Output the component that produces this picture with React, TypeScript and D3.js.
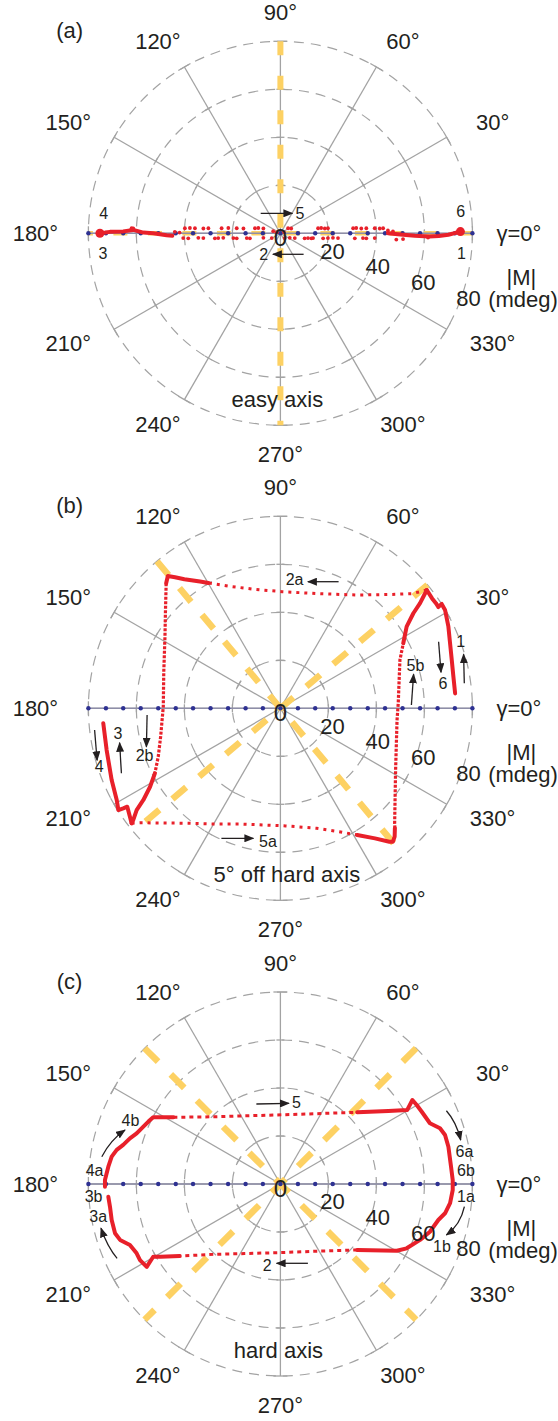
import React from "react";
import * as d3 from "d3";

const W = 558;
const H = 1421;
const R = 192;
const FONT = "'Liberation Sans', Arial, Helvetica, sans-serif";

const RADIAL_TICKS = [20, 40, 60, 80];
const ANGLE_TICKS = [0, 30, 60, 90, 120, 150, 180, 210, 240, 270, 300, 330];
const REF_DOTS = [-80, -72.7, -65.5, -58.2, -50.9, -43.6, -36.4, -29.1, -21.8, -14.5, -7.3, 0,
  7.3, 14.5, 21.8, 29.1, 36.4, 43.6, 50.9, 58.2, 65.5, 72.7, 80];

// ---------- panel (a): easy axis ----------
const A_AXES = [90, 0];
const A_DENSE = [
  [[-75.5, 0], [-73, 0.3], [-71, 0.6], [-65.5, 0.8], [-61.3, 1.4], [-57.1, 0.3], [-53, 0], [-47.4, -0.8], [-45, -1.0]],
  [[44.8, 0], [50, -0.5], [56, -1.0], [62, -1.3], [66, -1.1], [70, -0.6], [73, 0.2], [75.4, 0.6]],
];
const A_SCATTER = [
  [-62, 2.1], [-61.3, 2.0], [-39.8, 2.1], [-37.7, 2.2], [-35.6, 2.1], [-32.1, 2.0], [-30, 2.1], [-24.5, 2.1],
  [-21.7, 2.2], [-18.2, 2.1], [-15.4, 2.0], [-10.6, 2.1], [-9.2, 2.2], [-7.1, 2.0],
  [-40.5, -2.0], [-38.4, -2.1], [-34.2, -1.9], [-32.1, -2.0], [-27.3, -2.1], [-25.9, -2.0], [-23.8, -1.9],
  [-19.6, -2.0], [-18.2, -2.1], [-14, -2.0], [-12.7, -2.1], [-7.1, -1.9], [-3.6, -2.0],
  [-44, 0.6], [-42, 0.3], [-3, 0.9], [-1.5, 0.4], [1.5, 0.5],
  [3.2, 2.1], [4.5, 2.0], [15.7, 2.1], [17, 2.2], [18.5, 2.0], [19.8, 2.1], [30.3, 2.1], [31.6, 2.2],
  [33.7, 2.0], [35.8, 2.1], [39.3, 2.1], [41.4, 2.0], [42.8, 2.1], [44.8, 1.2], [46.9, 0.8],
  [1.8, -2.0], [3.9, -1.9], [6, -2.0], [10.1, -2.1], [11.5, -2.0], [12.9, -2.1], [13.6, -2.0], [17.8, -2.1],
  [19.8, -2.0], [21.9, -1.9], [24, -2.0], [31, -2.1], [34.4, -2.0], [35.8, -2.1], [39.3, -2.0],
  [48.3, -2.6], [51.1, -2.4], [61.5, -1.8],
];
const A_BLOBS = [[-75.2, 0], [75, 0.7]];

// ---------- panel (b): 5° off hard axis ----------
const B_AXES = [130, 40];
const B_DENSE = [
  [[72.8, 6.2], [72.0, 14], [71.4, 20.1], [70.6, 28], [70, 34], [68.6, 41], [67.2, 43.5], [65.8, 42.2], [64.8, 43.8], [63.2, 45.8], [61, 49.3]],
  [[-30, 52.2], [-33.5, 52.8], [-40, 53.8], [-43.9, 54.6], [-46.9, 55.1], [-47.6, 52.1]],
  [[-52.3, -27.1], [-54.3, -32.7], [-57.1, -38.2], [-59.9, -42.4], [-61.3, -46.5], [-62, -47.9]],
  [[-62, -47.9], [-62.7, -45.2], [-63.8, -41], [-65.5, -41.7], [-67.5, -42.4], [-68.2, -38.2], [-70.3, -29.9], [-72.4, -17.4], [-73.8, -6.2]],
  [[32, -52.8], [39.4, -54.2], [45.4, -55.6], [46.9, -55.6], [47.6, -53.5], [47.7, -50]],
  [[51.2, 27.1], [52.6, 34], [55.4, 39.6], [58.2, 43.8], [61, 49.3]],
];
const B_SPARSE_H = [
  [[61, 49.3], [55, 47.8], [45, 47.4], [32, 47.2], [15, 47.8], [0.7, 48.6], [-10, 49.5], [-20.1, 50.7], [-30, 52.2]],
  [[-62, -47.9], [-58.5, -47.7], [-48, -47.8], [-37.7, -47.9], [-27.5, -48.2], [-16.8, -48.2], [2.2, -49], [15, -50], [24.5, -51.4], [32, -52.8]],
];
const B_SPARSE_V = [
  [[-47.6, 52.1], [-47.9, 40], [-48.1, 29.8], [-48.6, 15], [-48.8, 0.7], [-49.9, -11.8], [-50.9, -20.2], [-52.3, -27.1]],
  [[47.7, -50], [47.6, -47.9], [48, -25.7], [48.6, -4.9], [49.1, 2.1], [49.8, 20.1], [51.2, 27.1]],
];

// ---------- panel (c): hard axis ----------
const C_AXES = [135, 45];
const C_DENSE = [
  [[32, 29.9], [45, 30.4], [52.8, 30.8], [55, 35], [56.8, 32.9], [58.9, 30.1], [62.3, 25.3], [66.5, 23.2], [68.6, 20.4], [70, 15.5],
    [71.1, 7.2], [71.8, 1.7], [71.8, -2.5], [70.7, -8], [68.6, -12.2], [65.8, -15], [62.3, -19.9], [58.2, -23.3], [52.6, -26.8], [48.5, -27.8], [32, -27.5]],
  [[-42, -30], [-49.9, -30.3], [-53, -30.3], [-55.7, -34.5], [-58.5, -31.7], [-59.9, -28.9], [-62.7, -25.4], [-66.8, -23.3], [-68.9, -20.5],
    [-70.3, -15], [-71, -9.5], [-71.7, -5.3]],
  [[-73.1, -1.1], [-73.1, 1.7], [-71.7, 7.2], [-70.3, 11.4], [-68.2, 14.2], [-65.5, 16.3], [-62.7, 19], [-59.9, 21.1], [-57.1, 23.9],
    [-55, 26], [-53, 27.8], [-44.6, 27.8]],
];
const C_SPARSE_H = [
  [[32, -27.5], [15, -28], [2.2, -28.5], [-15, -29], [-27.5, -29.3], [-42, -30]],
  [[-44.6, 27.8], [-27.5, 28], [2.2, 28.9], [15, 29.3], [32, 29.9]],
];

const rScale = d3.scaleLinear().domain([0, 80]).range([0, R]);
const xS = d3.scaleLinear().domain([-80, 80]).range([-R, R]);
const yS = d3.scaleLinear().domain([-80, 80]).range([R, -R]);
const lineGen = d3.line<number[]>().x((d) => xS(d[0])).y((d) => yS(d[1]));

const rad = (a: number) => (a * Math.PI) / 180;
const pol = (r: number, a: number) => [r * Math.cos(rad(a)), -r * Math.sin(rad(a))];

const RED = "#e8202a";
const GRID = "#a3a3a3";
const YEL = "#fdd163";

type Note = { t: string; p: number[] };
type Arrow = { a: number[]; b: number[]; c?: number[] };

function Panel(props: {
  cy: number; tag: string; caption: string; capDx: number;
  axes: number[]; axisW: number[]; axisDash: string;
  dense: number[][][]; sparseH: number[][][]; sparseV: number[][][]; hDash: string; vDash: string;
  scatter?: number[][]; blobs?: number[][];
  notes: Note[]; arrows: Arrow[];
}) {
  const cx = 280.4;
  const { cy } = props;
  return (
    <g transform={`translate(${cx},${cy})`}>
      {RADIAL_TICKS.map((v) => (
        <circle key={v} r={rScale(v)} fill="none" stroke={GRID} strokeWidth={1.2} strokeDasharray="10 7" />
      ))}
      {ANGLE_TICKS.map((a) => {
        const [x2, y2] = pol(R, a);
        const n = [Math.sin(rad(a)), Math.cos(rad(a))];
        return (
          <g key={a}>
            <line x1={0} y1={0} x2={x2} y2={y2} stroke={GRID} strokeWidth={1.3} />
            {RADIAL_TICKS.map((v) => {
              const [px, py] = pol(rScale(v), a);
              const L = v === 80 ? 7 : 4;
              return (
                <line key={v} x1={px - n[0] * L} y1={py - n[1] * L} x2={px + n[0] * L} y2={py + n[1] * L}
                  stroke={GRID} strokeWidth={1.3} />
              );
            })}
          </g>
        );
      })}
      {props.axes.map((a, i) => {
        const [x1, y1] = pol(R, a);
        const [x2, y2] = pol(R, a + 180);
        return (
          <line key={a} x1={x1} y1={y1} x2={x2} y2={y2} stroke={YEL} strokeWidth={props.axisW[i]}
            strokeDasharray={props.axisDash} />
        );
      })}
      <line x1={xS(-80)} x2={xS(80)} y1={yS(0)} y2={yS(0)} stroke="#8e8ea8" strokeWidth={1.4} />
      {REF_DOTS.map((v, i) => (
        <circle key={i} cx={xS(v)} cy={yS(0)} r={2.2} fill="#2e3192" />
      ))}
      {props.sparseH.map((s, i) => (
        <path key={"h" + i} d={lineGen(s) || ""} fill="none" stroke={RED} strokeWidth={3} strokeDasharray={props.hDash} />
      ))}
      {props.sparseV.map((s, i) => (
        <path key={"v" + i} d={lineGen(s) || ""} fill="none" stroke={RED} strokeWidth={3.2} strokeDasharray={props.vDash} />
      ))}
      {props.dense.map((s, i) => (
        <path key={"d" + i} d={lineGen(s) || ""} fill="none" stroke={RED} strokeWidth={4}
          strokeLinejoin="round" strokeLinecap="round" />
      ))}
      {(props.scatter || []).map((p, i) => (
        <circle key={"s" + i} cx={xS(p[0])} cy={yS(p[1])} r={1.9} fill={RED} />
      ))}
      {(props.blobs || []).map((p, i) => (
        <circle key={"b" + i} cx={xS(p[0])} cy={yS(p[1])} r={4.5} fill={RED} />
      ))}
      {ANGLE_TICKS.filter((a) => a !== 0).map((a) => (
        <text key={a} x={245 * Math.cos(rad(a))} y={-221 * Math.sin(rad(a))} textAnchor="middle"
          dominantBaseline="central" fontSize={22} fontFamily={FONT} fill="#231f20">{`${a}°`}</text>
      ))}
      <text x={216} y={0} dominantBaseline="central" fontSize={22} fontFamily={FONT} fill="#231f20">γ=0°</text>
      {RADIAL_TICKS.map((v) => {
        const [px, py] = pol(rScale(v) + 7, -19);
        return (
          <text key={v} x={px} y={py} textAnchor="middle" dominantBaseline="central" fontSize={22}
            fontFamily={FONT} fill="#231f20">{v}</text>
        );
      })}
      <text x={241} y={44.5} textAnchor="middle" dominantBaseline="central" fontSize={22} fontFamily={FONT} fill="#231f20">|M|</text>
      <text x={242.6} y={66.7} textAnchor="middle" dominantBaseline="central" fontSize={22} fontFamily={FONT} fill="#231f20">(mdeg)</text>
      <text x={0} y={4} textAnchor="middle" dominantBaseline="central" fontSize={24} fontFamily={FONT} fill="#231f20">0</text>
      <text x={-210.8} y={-203} textAnchor="middle" dominantBaseline="central" fontSize={22} fontFamily={FONT} fill="#231f20">{props.tag}</text>
      <text x={props.capDx} y={173.5} textAnchor="middle" fontSize={22} fontFamily={FONT} fill="#231f20">{props.caption}</text>
      {props.notes.map((n, i) => (
        <text key={"n" + i} x={n.p[0]} y={n.p[1]} textAnchor="middle" dominantBaseline="central" fontSize={16}
          fontFamily={FONT} fill="#231f20">{n.t}</text>
      ))}
      {props.arrows.map((ar, i) => {
        const d = ar.c
          ? `M${ar.a[0]},${ar.a[1]} Q${ar.c[0]},${ar.c[1]} ${ar.b[0]},${ar.b[1]}`
          : `M${ar.a[0]},${ar.a[1]} L${ar.b[0]},${ar.b[1]}`;
        return <path key={"a" + i} d={d} fill="none" stroke="#231f20" strokeWidth={1.3} markerEnd="url(#ah)" />;
      })}
    </g>
  );
}

export default function App() {
  return (
    <svg width={W} height={H} viewBox={`0 0 ${W} ${H}`}
      style={{ position: "absolute", left: 0, top: 0, background: "#fff" }}>
      <defs>
        <marker id="ah" viewBox="0 0 10 8" refX={9} refY={4} markerWidth={10} markerHeight={8}
          markerUnits="userSpaceOnUse" orient="auto">
          <path d="M0,0 L10,4 L0,8 z" fill="#231f20" />
        </marker>
      </defs>
      <rect x={0} y={0} width={W} height={H} fill="#fff" />
      <Panel cy={233.3} tag="(a)" caption="easy axis" capDx={-3}
        axes={A_AXES} axisW={[6, 4.5]} axisDash="14 20.5"
        dense={A_DENSE} sparseH={[]} sparseV={[]} hDash="" vDash=""
        scatter={A_SCATTER} blobs={A_BLOBS}
        notes={[
          { t: "5", p: [19.6, -20] }, { t: "2", p: [-16.8, 21.7] },
          { t: "4", p: [-176.8, -20] }, { t: "3", p: [-177.5, 20] },
          { t: "6", p: [180.3, -21.6] }, { t: "1", p: [181, 20] },
        ]}
        arrows={[{ a: [-19.7, -20], b: [12, -20] }, { a: [23.2, 21], b: [-7.5, 21] }]}
      />
      <Panel cy={708.3} tag="(b)" caption="5° off hard axis" capDx={6.5}
        axes={B_AXES} axisW={[6.5, 6.5]} axisDash="18 17"
        dense={B_DENSE} sparseH={B_SPARSE_H} sparseV={B_SPARSE_V} hDash="3 5" vDash="3 1.5"
        notes={[
          { t: "2a", p: [14.2, -129] }, { t: "1", p: [180.3, -66.6] }, { t: "6", p: [162.5, -25] },
          { t: "5b", p: [135, -43.3] }, { t: "3", p: [-162.5, 25] }, { t: "4", p: [-181.1, 58.4] },
          { t: "2b", p: [-135.8, 47.4] }, { t: "5a", p: [-12.5, 133.4] },
        ]}
        arrows={[
          { a: [58.2, -126.6], b: [27.5, -126.6] }, { a: [183.9, -25], b: [183.2, -54] },
          { a: [158.2, -66.6], b: [160.6, -36] }, { a: [131, -3.3], b: [133.2, -34] },
          { a: [-159, 65], b: [-160.8, 34.5] }, { a: [-185.8, 21.7], b: [-183.3, 52] },
          { a: [-133.3, 6.7], b: [-134, 38.5] }, { a: [-59, 130], b: [-27, 130] },
        ]}
      />
      <Panel cy={1184} tag="(c)" caption="hard axis" capDx={-2}
        axes={C_AXES} axisW={[6.5, 6.5]} axisDash="19 18"
        dense={C_DENSE} sparseH={C_SPARSE_H} sparseV={[]} hDash="4 4" vDash=""
        notes={[
          { t: "5", p: [16, -81.3] }, { t: "2", p: [-13.3, 81] },
          { t: "4b", p: [-150, -64] }, { t: "4a", p: [-185.8, -14] }, { t: "3b", p: [-186.8, 12] },
          { t: "3a", p: [-182.2, 32.7] }, { t: "6a", p: [184, -32.3] }, { t: "6b", p: [185.6, -14] },
          { t: "1a", p: [185.6, 12] }, { t: "1b", p: [161.6, 62.7] },
        ]}
        arrows={[
          { a: [-24, -80], b: [8.5, -80.7] }, { a: [27.5, 79.3], b: [-3.8, 79.3] },
          { a: [-178.6, -27.3], b: [-155.4, -54], c: [-170, -44] },
          { a: [-163.3, 74.3], b: [-179.4, 44.3], c: [-173, 63] },
          { a: [166, -73.3], b: [180.3, -44], c: [176, -62] },
          { a: [184, 22.7], b: [166, 51], c: [180, 41] },
        ]}
      />
    </svg>
  );
}
